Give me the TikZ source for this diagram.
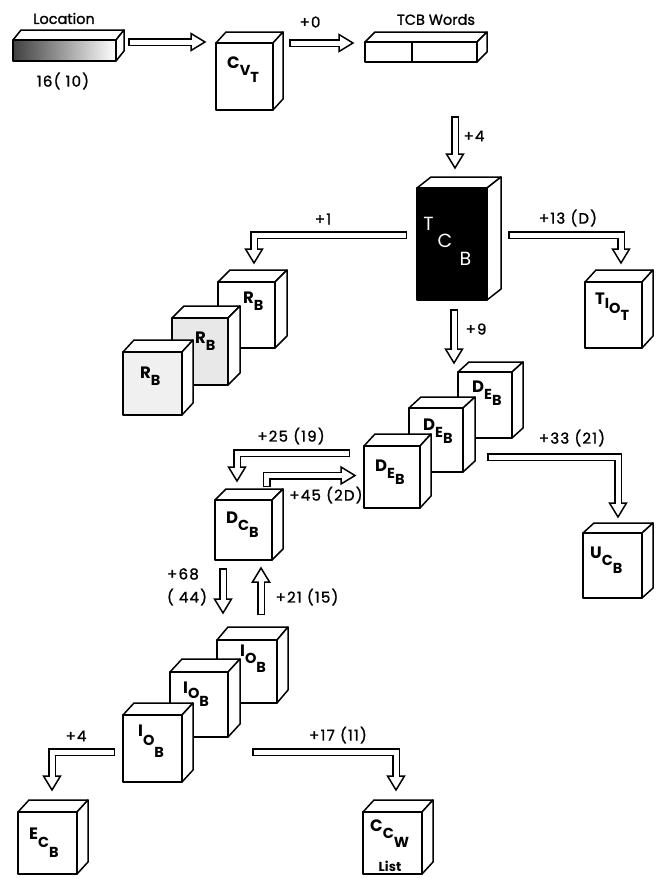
\documentclass[tikz,border=0pt]{standalone}
\usepackage{fontspec}
\setmainfont{Poppins}
\newfontfamily\wordfont{Poppins}[FakeBold=1.3]
\newfontfamily\numfont{Poppins}[FakeBold=1.3, LetterSpace=8]
\usetikzlibrary{calc}
% cube: name, x1, y1 (top-left of front), x2, y2 (bottom-right of front), dx, dy (depth), front fill
\newcommand\cube[8]{%
  \draw[box, fill=white] (#2,#3) -- (#2+#6,#3-#7) -- (#4+#6,#3-#7) -- (#4,#3) -- cycle;
  \draw[box, fill=white] (#4,#3) -- (#4+#6,#3-#7) -- (#4+#6,#5-#7) -- (#4,#5) -- cycle;
  \node[box, fill=#8, anchor=north west, inner sep=0pt, outer sep=0pt,
        minimum width={(#4-#2)*1pt}, minimum height={(#5-#3)*1pt}] (#1) at (#2,#3) {};
}
% hollow arrow: #1 path up to head base #2, tip #3
\newcommand\harrow[3]{%
  \draw[line width=8pt, line join=miter] #1 -- #2;
  \filldraw[fill=white, line width=1.5pt, line join=miter]
     ($#2!8.5pt!90:#3$) -- #3 -- ($#2!8.5pt!-90:#3$) -- cycle;
  \draw[white, line width=5pt, line join=miter, shorten <=1.5pt, shorten >=-1.3pt] #1 -- #2;
}
\newcommand\lthree[5]{#1\raisebox{-#2pt}{\fontsize{14.5}{14}\selectfont #3\raisebox{-#4pt}{#5}}}
\newcommand\ltwo[3]{#1\raisebox{-#2pt}{\fontsize{14.5}{14}\selectfont #3}}
\begin{document}
\begin{tikzpicture}[x=1pt,y=-1pt,
  box/.style={draw=black, line width=1.5pt, line join=round},
  wlab/.style={font=\wordfont\fontsize{14.5}{16}\selectfont, inner sep=0pt},
  elab/.style={font=\numfont\fontsize{15}{16}\selectfont, inner sep=0pt},
  blab/.style={font=\bfseries\fontsize{16.5}{16}\selectfont, inner sep=0pt, anchor=north west},
  tcbl/.style={font=\fontsize{19}{19}\selectfont, text=white, inner sep=0pt}]
\useasboundingbox[fill=white] (0,0) rectangle (661,878);

% ---------- Location bar ----------
\draw[box, fill=white] (13,40) -- (21,30) -- (124,30) -- (116,40) -- cycle;
\draw[box, fill=white] (116,40) -- (124,30) -- (124,51) -- (116,61) -- cycle;
\shade[left color=black!75, right color=white] (13,40) rectangle (116,61);
\node[box, anchor=north west, inner sep=0pt, outer sep=0pt, minimum width=103pt, minimum height=21pt] (loc) at (13,40) {};

% ---------- TCB Words bar ----------
\draw[box, fill=white] (365,42) -- (375,32) -- (487,32) -- (477,42) -- cycle;
\draw[box, fill=white] (477,42) -- (487,32) -- (487,52) -- (477,62) -- cycle;
\node[box, fill=white, anchor=north west, inner sep=0pt, outer sep=0pt, minimum width=112pt, minimum height=20pt] (tcbw) at (365,42) {};
\draw[box] (412,42) -- (412,62);

% ---------- cubes ----------
\cube{cvt}{216}{43}{273}{110}{10}{11}{white}
\cube{tcb}{417}{188}{487}{300}{14}{11}{black}
\cube{tiot}{585}{282}{642}{348}{11}{12}{white}
\cube{rb1}{218}{282}{275}{348}{12}{12}{white}
\cube{rb2}{172}{318}{228}{385}{12}{12}{black!9}
\cube{rb3}{123}{352}{182}{415}{11}{12}{black!6}
\cube{de1}{458}{372}{512}{438}{11}{10}{white}
\cube{de2}{409}{408}{463}{472}{12}{11}{white}
\cube{de3}{364}{446}{420}{508}{11}{12}{white}
\cube{dcb}{215}{500}{272}{560}{11}{11}{white}
\cube{ucb}{583}{533}{642}{598}{11}{10}{white}
\cube{io1}{217}{640}{277}{703}{11}{13}{white}
\cube{io2}{170}{672}{228}{737}{12}{13}{white}
\cube{io3}{123}{715}{182}{782}{11}{12}{white}
\cube{ecb}{18}{812}{77}{874}{11}{12}{white}
\cube{ccw}{363}{812}{422}{874}{11}{12}{white}

% ---------- box labels ----------
\node[blab] (lcvt) at (227,57) {\lthree{C}{6.6}{V}{7}{T}};
\node[tcbl] (lt1) at (428.5,223.5) {T};
\node[tcbl] (lt2) at (445,240.5) {C};
\node[tcbl] (lt3) at (465.5,258.5) {B};
\node[blab] (ltiot) at (595,293) {T\raisebox{-3.6pt}{\fontsize{14.5}{14}\selectfont I\raisebox{-5pt}{O\raisebox{-7pt}{T}}}};
\node[blab] (lrb1) at (243,292) {\ltwo{R}{6.6}{B}};
\node[blab] (lrb2) at (195,332) {\ltwo{R}{6.6}{B}};
\node[blab] (lrb3) at (140,367) {\ltwo{R}{6.6}{B}};
\node[blab] (lde1) at (472,381) {\lthree{D}{6.6}{E}{6}{B}};
\node[blab] (lde2) at (423,419) {\lthree{D}{6.6}{E}{6}{B}};
\node[blab] (lde3) at (375,460) {\lthree{D}{6.6}{E}{6}{B}};
\node[blab] (ldcb) at (226,512) {\lthree{D}{6.6}{C}{7}{B}};
\node[blab] (lucb) at (590,547) {\lthree{U}{6.6}{C}{8}{B}};
\node[blab] (lio1) at (240,645) {\lthree{I}{6.6}{O}{9}{B}};
\node[blab] (lio2) at (183,682) {\lthree{I}{4.6}{O}{8}{B}};
\node[blab] (lio3) at (138,725) {\lthree{I}{8.6}{O}{12}{B}};
\node[blab] (lecb) at (29,828) {\lthree{E}{7.6}{C}{10}{B}};
\node[blab] (lccw) at (370,820) {\lthree{C}{6.6}{C}{9}{W}};
\node[font=\bfseries\fontsize{13}{13}\selectfont, inner sep=0pt] (llist) at (390,866) {List};

% ---------- arrow end points ----------
\coordinate (a1s) at (128,42);   \coordinate (a1b) at (191,42);   \coordinate (a1t) at (205,42);
\coordinate (a2s) at (289,43);   \coordinate (a2b) at (339,43);   \coordinate (a2t) at (353,43);
\coordinate (a3s) at (455,116);  \coordinate (a3b) at (455,154);  \coordinate (a3t) at (455,168);
\coordinate (a4s) at (407,235);  \coordinate (a4c) at (254,235);  \coordinate (a4b) at (254,249); \coordinate (a4t) at (254,263);
\coordinate (a5s) at (508,235);  \coordinate (a5c) at (621,235);  \coordinate (a5b) at (621,249); \coordinate (a5t) at (621,263);
\coordinate (a6s) at (454,309);  \coordinate (a6b) at (454,349);  \coordinate (a6t) at (454,363);
\coordinate (a7s) at (350,453);  \coordinate (a7c) at (237,453);  \coordinate (a7b) at (237,467); \coordinate (a7t) at (237,481);
\coordinate (a8s) at (266.5,487);\coordinate (a8c) at (266.5,475.5); \coordinate (a8b) at (341,475.5); \coordinate (a8t) at (355,475.5);
\coordinate (a9s) at (487,457);  \coordinate (a9c) at (618,457);  \coordinate (a9b) at (618,503); \coordinate (a9t) at (618,517);
\coordinate (a10s) at (223,568); \coordinate (a10b) at (223,599); \coordinate (a10t) at (223,613);
\coordinate (a11s) at (261,615); \coordinate (a11b) at (261,582); \coordinate (a11t) at (261,568);
\coordinate (a12s) at (115,752); \coordinate (a12c) at (52,752);  \coordinate (a12b) at (52,776); \coordinate (a12t) at (52,790);
\coordinate (a13s) at (252,752); \coordinate (a13c) at (396,752); \coordinate (a13b) at (396,776); \coordinate (a13t) at (396,790);

% ---------- arrows ----------
\harrow{(a1s)}{(a1b)}{(a1t)}
\harrow{(a2s)}{(a2b)}{(a2t)}
\harrow{(a3s)}{(a3b)}{(a3t)}
\harrow{(a4s) -- (a4c)}{(a4b)}{(a4t)}
\harrow{(a5s) -- (a5c)}{(a5b)}{(a5t)}
\harrow{(a6s)}{(a6b)}{(a6t)}
\harrow{(a7s) -- (a7c)}{(a7b)}{(a7t)}
\harrow{(a8s) -- (a8c)}{(a8b)}{(a8t)}
\harrow{(a9s) -- (a9c)}{(a9b)}{(a9t)}
\harrow{(a10s)}{(a10b)}{(a10t)}
\harrow{(a11s)}{(a11b)}{(a11t)}
\harrow{(a12s) -- (a12c)}{(a12b)}{(a12t)}
\harrow{(a13s) -- (a13c)}{(a13b)}{(a13t)}

% ---------- edge labels ----------
\node[wlab] (t0) at (64,18.5) {Location};
\node[elab] (t1) at (63,81) {16( 10)};
\node[elab] (t2) at (310,22) {+0};
\node[wlab] (t3) at (436,19.5) {TCB Words};
\node[elab] (t4) at (474,136) {+4};
\node[elab] (t5) at (323,219) {+1};
\node[elab] (t6) at (568,218) {+13 (D)};
\node[elab] (t7) at (476,329) {+9};
\node[elab] (t8) at (291,436) {+25 (19)};
\node[elab] (t9) at (326,495) {+45 (2D)};
\node[elab] (t10) at (572,438) {+33 (21)};
\node[elab] (t11) at (183,574) {+68};
\node[elab] (t12) at (187,597) {( 44)};
\node[elab] (t13) at (307,597) {+21 (15)};
\node[elab] (t14) at (76,736) {+4};
\node[elab] (t15) at (338,735) {+17 (11)};
\end{tikzpicture}
\end{document}
